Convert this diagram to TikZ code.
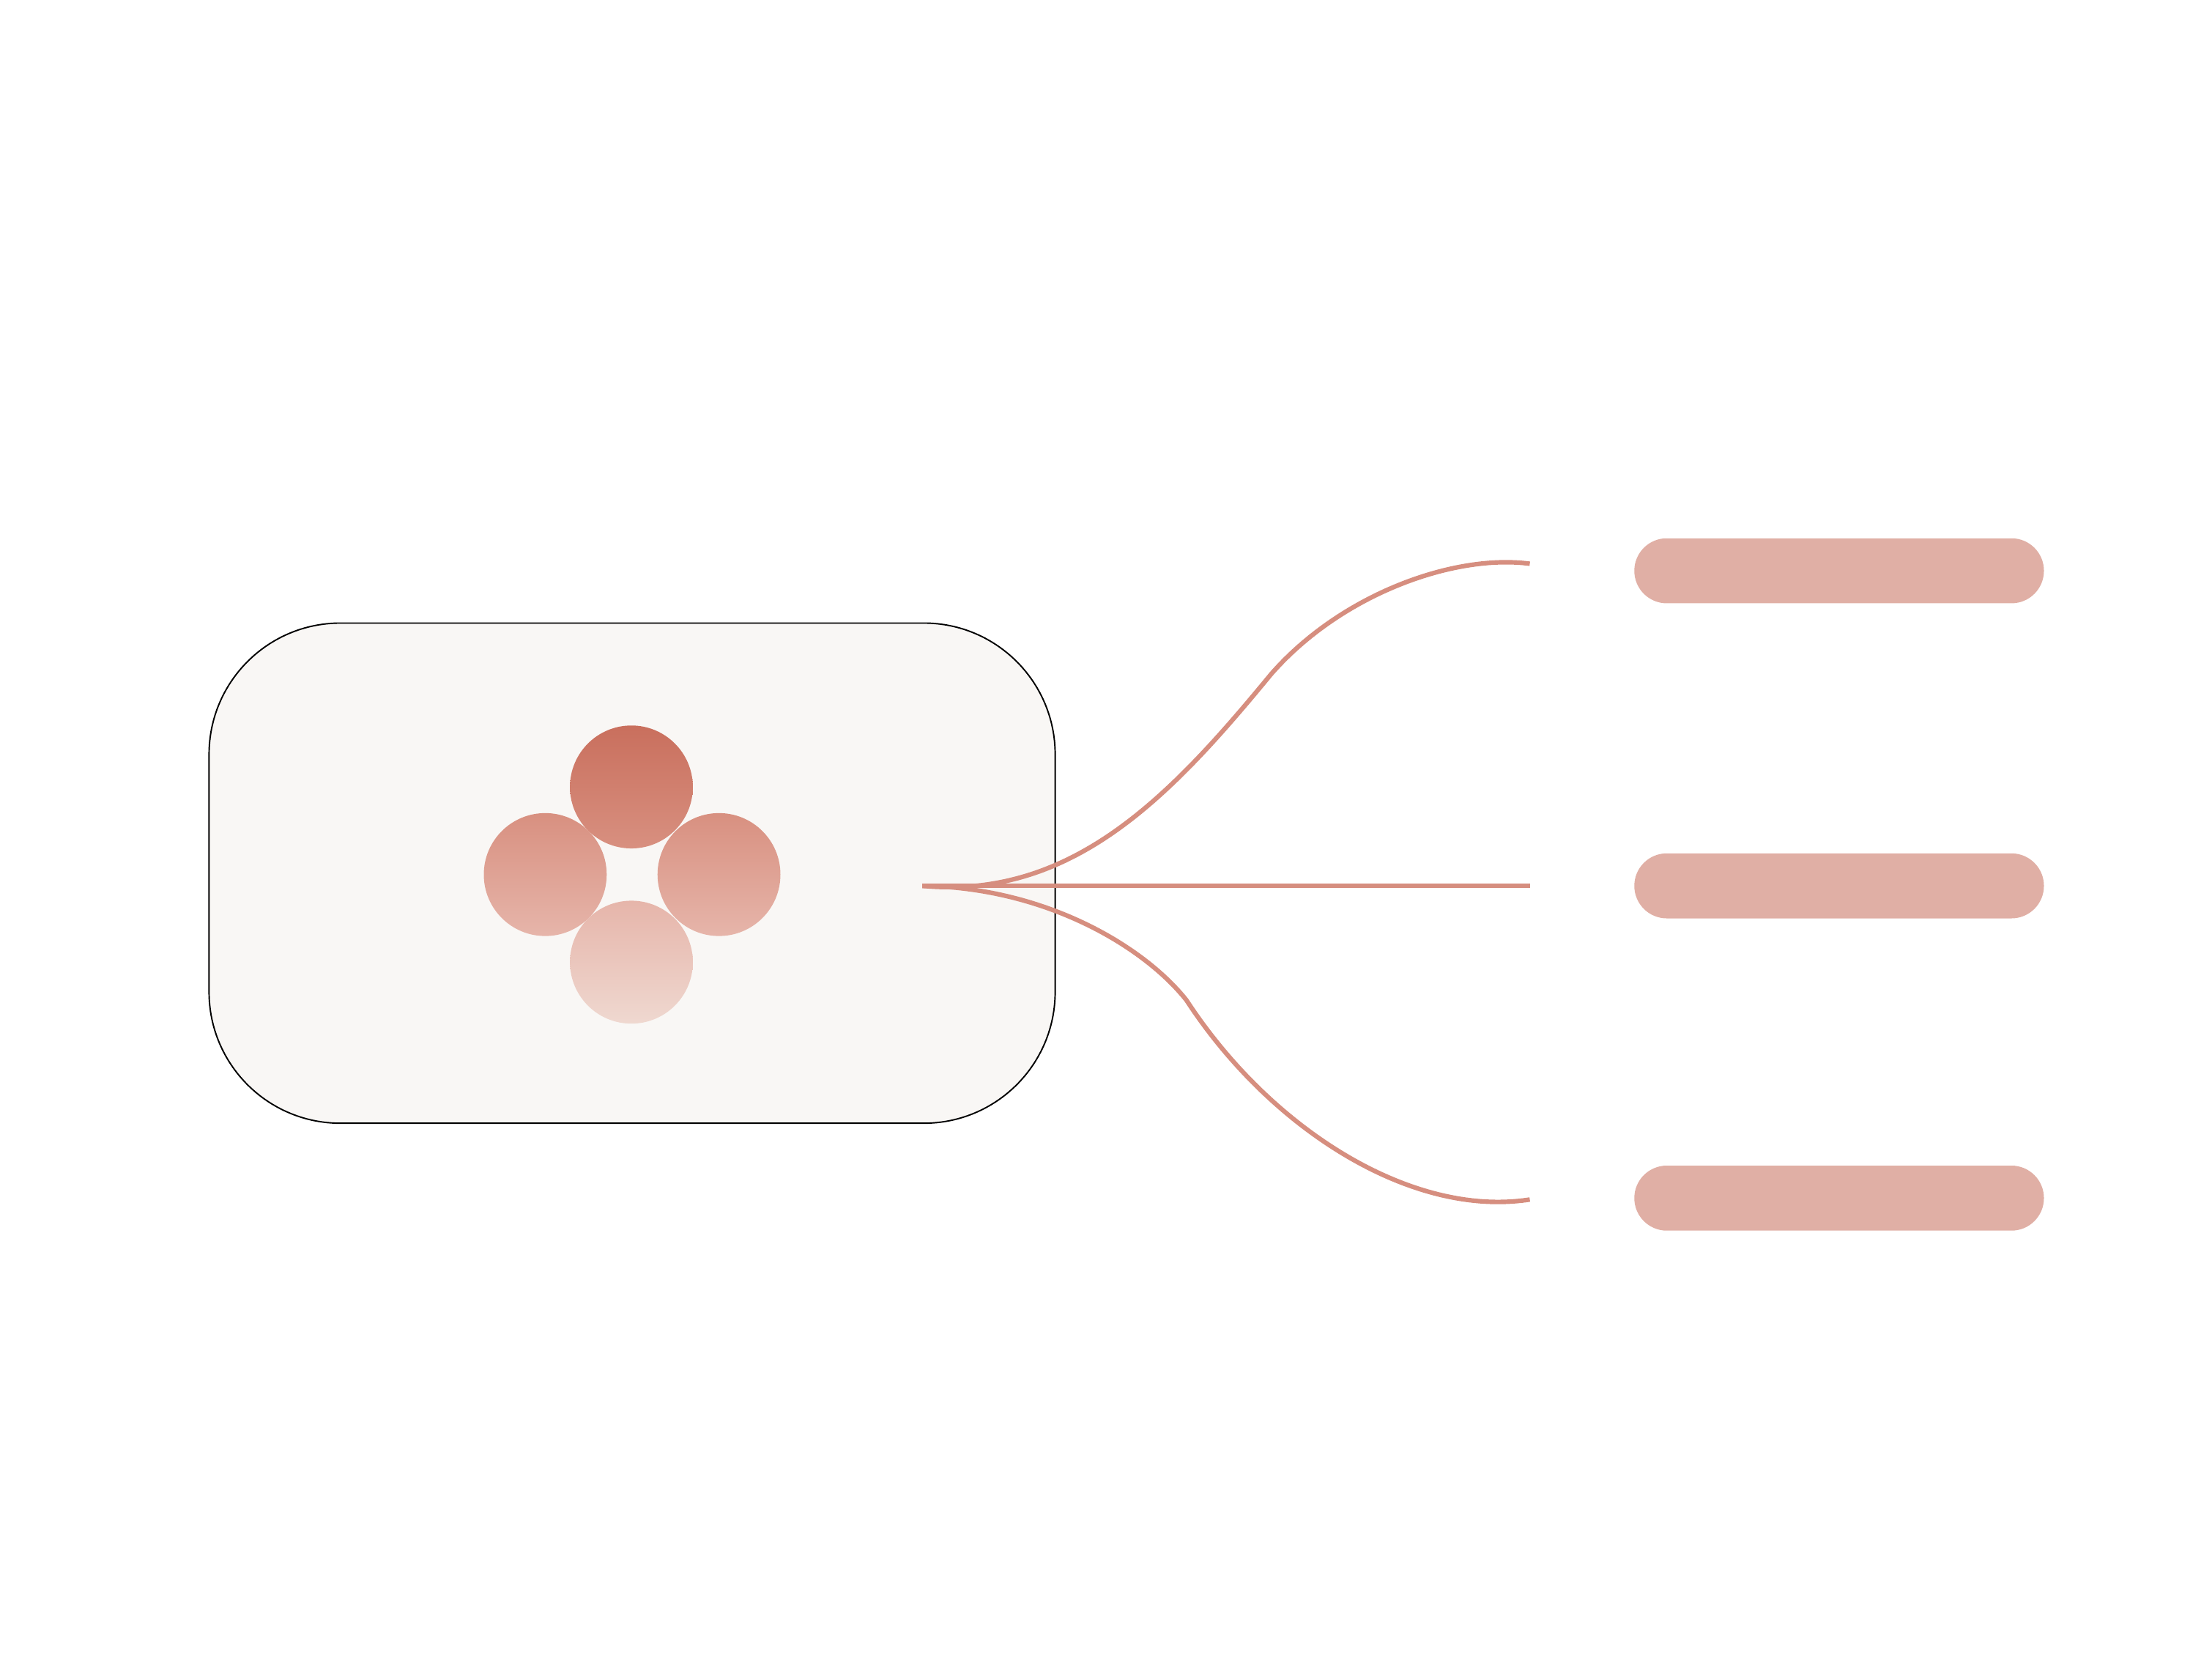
\documentclass[tikz,border=0pt]{standalone}
\usetikzlibrary{positioning}
\definecolor{cardfill}{RGB}{249,247,245}
\definecolor{barfill}{RGB}{224,175,165}
\definecolor{linkcol}{RGB}{214,142,127}
\definecolor{dotA}{RGB}{201,111,93}
\definecolor{dotB}{RGB}{216,144,128}
\definecolor{dotC}{RGB}{230,181,170}
\definecolor{dotD}{RGB}{239,216,208}
\tikzset{every picture/.style={line width=0.75pt}}
\tikzset{
  bar/.style={rectangle,rounded corners=11.5,fill=barfill,minimum width=145,minimum height=23,inner sep=0},
  dot/.style={circle,minimum size=43.5,inner sep=0},
  link/.style={draw=linkcol,line width=1.6}
}
\begin{document}
\begin{tikzpicture}[x=0.5pt,y=0.5pt,yscale=-1,xscale=1]
\useasboundingbox (0,0) rectangle (1566,1171);

%Rounded Rect [id:card]
\draw [fill=cardfill,line width=0.5,rounded corners=46.5] (148,441) rectangle (747,795) ;

%Circles
\node [dot,top color=dotA,bottom color=dotB] (dotN) at (447,557) {};
\node [dot,top color=dotB,bottom color=dotC] (dotW) at (386,619) {};
\node [dot,top color=dotB,bottom color=dotC] (dotE) at (509,619) {};
\node [dot,top color=dotC,bottom color=dotD] (dotS) at (447,681) {};

%Bars
\node [bar] (barT) at (1302,404) {};
\node [bar] (barM) at (1302,627) {};
\node [bar] (barB) at (1302,848) {};

\coordinate (hub) at (653,627);
\coordinate (endT) at (1083,399);
\coordinate (endM) at (1083,627);
\coordinate (endB) at (1083,849);

%Links
\draw [link] (hub) .. controls (760,637) and (830,562) .. (900,477) .. controls (950,420) and (1030,392) .. (endT) ;
\draw [link] (hub) -- (endM) ;
\draw [link] (hub) .. controls (740,628) and (810,670) .. (840,708) .. controls (900,800) and (1000,862) .. (endB) ;

\end{tikzpicture}
\end{document}
